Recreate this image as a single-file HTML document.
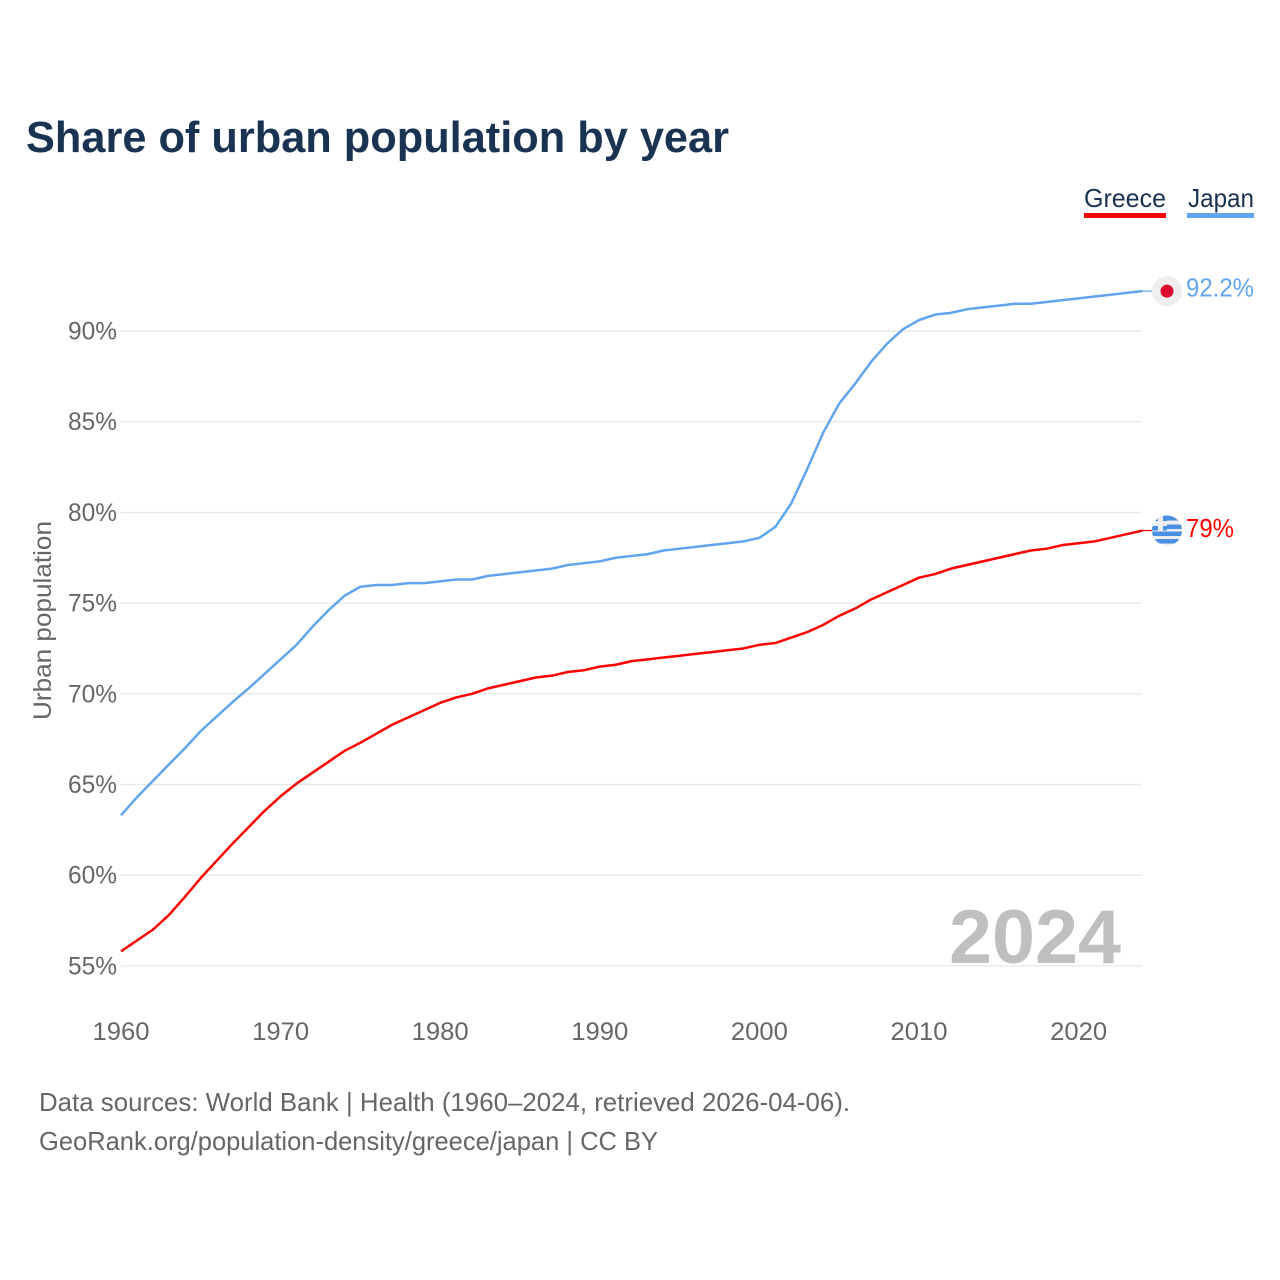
<!DOCTYPE html>
<html lang="en">
<head>
<meta charset="utf-8">
<title>Share of urban population by year</title>
<style>
html,body{margin:0;padding:0;background:#fff;}
svg{display:block;}
text{font-family:"Liberation Sans",sans-serif;}
</style>
</head>
<body>
<svg id="chart" width="1280" height="1280" viewBox="0 0 1280 1280" xmlns="http://www.w3.org/2000/svg">
  <text x="26" y="152" font-size="44" font-weight="700" fill="#1a3353" textLength="703" lengthAdjust="spacingAndGlyphs">Share of urban population by year</text>

  <g id="grid"></g>
  <g id="yticks"></g>
  <g id="xticks"></g>

  <text transform="translate(51,720) rotate(-90)" font-size="25" fill="#666" textLength="199" lengthAdjust="spacingAndGlyphs">Urban population</text>

  <g>
    <text x="1084" y="207" font-size="26" fill="#1a3353" textLength="82" lengthAdjust="spacingAndGlyphs">Greece</text>
    <rect x="1084" y="213" width="82" height="5" fill="#ff0000"></rect>
  </g>
  <g>
    <text x="1188" y="207" font-size="26" fill="#1a3353" textLength="66" lengthAdjust="spacingAndGlyphs">Japan</text>
    <rect x="1187" y="213" width="67" height="5" fill="#60a5ee"></rect>
  </g>

  <text x="1121" y="963" text-anchor="end" font-size="76" font-weight="700" fill="#bfbfbf" textLength="172" lengthAdjust="spacingAndGlyphs">2024</text>

  <path id="line-japan" fill="none" stroke="#60a5ee" stroke-width="2.5" stroke-linejoin="round"></path>
  <path id="line-greece" fill="none" stroke="#ff0000" stroke-width="2.5" stroke-linejoin="round"></path>
  <path id="tail-japan" fill="none" stroke="#60a5ee" stroke-width="1.2"></path>
  <path id="tail-greece" fill="none" stroke="#ff0000" stroke-width="1.2"></path>

  <g id="marker-japan">
    <circle r="15" fill="#eeeeee"></circle>
    <circle r="6.5" fill="#dc0a2d"></circle>
  </g>
  <text id="value-japan" x="1186" font-size="26" fill="#60a5ee" textLength="68" lengthAdjust="spacingAndGlyphs"></text>

  <defs>
    <clipPath id="flag-clip"><circle cx="0" cy="0" r="15"></circle></clipPath>
  </defs>
  <g id="marker-greece">
    <g clip-path="url(#flag-clip)">
      <rect x="-15" y="-15" width="30" height="30" fill="#eeeeee"></rect>
      <rect x="-15" y="-15" width="30" height="5" fill="#4a90e2"></rect>
      <rect x="-15" y="-6" width="30" height="4.5" fill="#4a90e2"></rect>
      <rect x="-15" y="1" width="30" height="4.5" fill="#4a90e2"></rect>
      <rect x="-15" y="8.5" width="30" height="4.5" fill="#4a90e2"></rect>
      <rect x="-15" y="-15" width="15" height="15" fill="#4a90e2"></rect>
      <rect x="-9" y="-15" width="5" height="15" fill="#eeeeee"></rect>
      <rect x="-15" y="-9.5" width="15" height="5" fill="#eeeeee"></rect>
    </g>
  </g>
  <text id="value-greece" x="1186" font-size="26" fill="#ff0000" textLength="48" lengthAdjust="spacingAndGlyphs"></text>

  <text x="39" y="1111" font-size="26" fill="#666" textLength="811" lengthAdjust="spacingAndGlyphs">Data sources: World Bank | Health (1960–2024, retrieved 2026-04-06).</text>
  <text x="39" y="1150" font-size="26" fill="#666" textLength="619" lengthAdjust="spacingAndGlyphs">GeoRank.org/population-density/greece/japan | CC BY</text>
</svg>

<script>
const startYear = 1960;
const yTickValues = [55, 60, 65, 70, 75, 80, 85, 90];
const xTickValues = [1960, 1970, 1980, 1990, 2000, 2010, 2020];

const japanValues = [
  63.3, 64.3, 65.2, 66.1, 67.0, 67.95, 68.75, 69.55, 70.3, 71.1,
  71.9, 72.7, 73.7, 74.6, 75.4, 75.9, 76.0, 76.0, 76.1, 76.1,
  76.2, 76.3, 76.3, 76.5, 76.6, 76.7, 76.8, 76.9, 77.1, 77.2,
  77.3, 77.5, 77.6, 77.7, 77.9, 78.0, 78.1, 78.2, 78.3, 78.4,
  78.6, 79.2, 80.5, 82.4, 84.4, 86.0, 87.1, 88.3, 89.3, 90.1,
  90.6, 90.9, 91.0, 91.2, 91.3, 91.4, 91.5, 91.5, 91.6, 91.7,
  91.8, 91.9, 92.0, 92.1, 92.2
];

const greeceValues = [
  55.8, 56.4, 57.0, 57.8, 58.8, 59.85, 60.8, 61.75, 62.65, 63.55,
  64.35, 65.05, 65.65, 66.25, 66.85, 67.3, 67.8, 68.3, 68.7, 69.1,
  69.5, 69.8, 70.0, 70.3, 70.5, 70.7, 70.9, 71.0, 71.2, 71.3,
  71.5, 71.6, 71.8, 71.9, 72.0, 72.1, 72.2, 72.3, 72.4, 72.5,
  72.7, 72.8, 73.1, 73.4, 73.8, 74.3, 74.7, 75.2, 75.6, 76.0,
  76.4, 76.6, 76.9, 77.1, 77.3, 77.5, 77.7, 77.9, 78.0, 78.2,
  78.3, 78.4, 78.6, 78.8, 79.0
];

const SVG_NS = 'http://www.w3.org/2000/svg';

function xScale(year) {
  return 121 + (year - 1960) * 15.96;
}
function yScale(value) {
  return 331 + (90 - value) * 18.14;
}
function linePath(values) {
  return values.map(function (v, i) {
    return (i ? 'L' : 'M') + xScale(startYear + i).toFixed(2) + ' ' + yScale(v).toFixed(2);
  }).join(' ');
}

const gridGroup = document.getElementById('grid');
const yGroup = document.getElementById('yticks');
yTickValues.forEach(function (v) {
  const gridline = document.createElementNS(SVG_NS, 'line');
  gridline.setAttribute('x1', 121);
  gridline.setAttribute('x2', 1142);
  gridline.setAttribute('y1', yScale(v));
  gridline.setAttribute('y2', yScale(v));
  gridline.setAttribute('stroke', '#e9e9e9');
  gridline.setAttribute('stroke-width', '1.4');
  
  
  gridGroup.appendChild(gridline);

  const label = document.createElementNS(SVG_NS, 'text');
  label.setAttribute('x', 117);
  label.setAttribute('y', yScale(v) + 8.5);
  label.setAttribute('text-anchor', 'end');
  label.setAttribute('font-size', '25');
  label.setAttribute('fill', '#666');
  label.setAttribute('textLength', '49');
  label.setAttribute('lengthAdjust', 'spacingAndGlyphs');
  
  
  label.textContent = v + '%';
  yGroup.appendChild(label);
});

const xGroup = document.getElementById('xticks');
xTickValues.forEach(function (year) {
  const label = document.createElementNS(SVG_NS, 'text');
  label.setAttribute('x', xScale(year));
  label.setAttribute('y', 1040);
  label.setAttribute('text-anchor', 'middle');
  label.setAttribute('font-size', '25');
  label.setAttribute('fill', '#666');
  label.setAttribute('textLength', '57');
  label.setAttribute('lengthAdjust', 'spacingAndGlyphs');
  
  
  label.textContent = year;
  xGroup.appendChild(label);
});

document.getElementById('line-japan').setAttribute('d', linePath(japanValues));
document.getElementById('line-greece').setAttribute('d', linePath(greeceValues));

function placeEnd(name, values, markerX, labelOffset) {
  const last = values[values.length - 1];
  const lastX = xScale(startYear + values.length - 1);
  const y = yScale(last);
  document.getElementById('tail-' + name).setAttribute('d', 'M' + lastX + ' ' + y + ' L' + (markerX - 15) + ' ' + y);
  document.getElementById('marker-' + name).setAttribute('transform', 'translate(' + markerX + ',' + y + ')');
  const valueLabel = document.getElementById('value-' + name);
  valueLabel.setAttribute('y', y + labelOffset);
  valueLabel.textContent = last + '%';
}
placeEnd('japan', japanValues, 1167, 5.5);
placeEnd('greece', greeceValues, 1167, 6.5);
</script>
</body>
</html>
